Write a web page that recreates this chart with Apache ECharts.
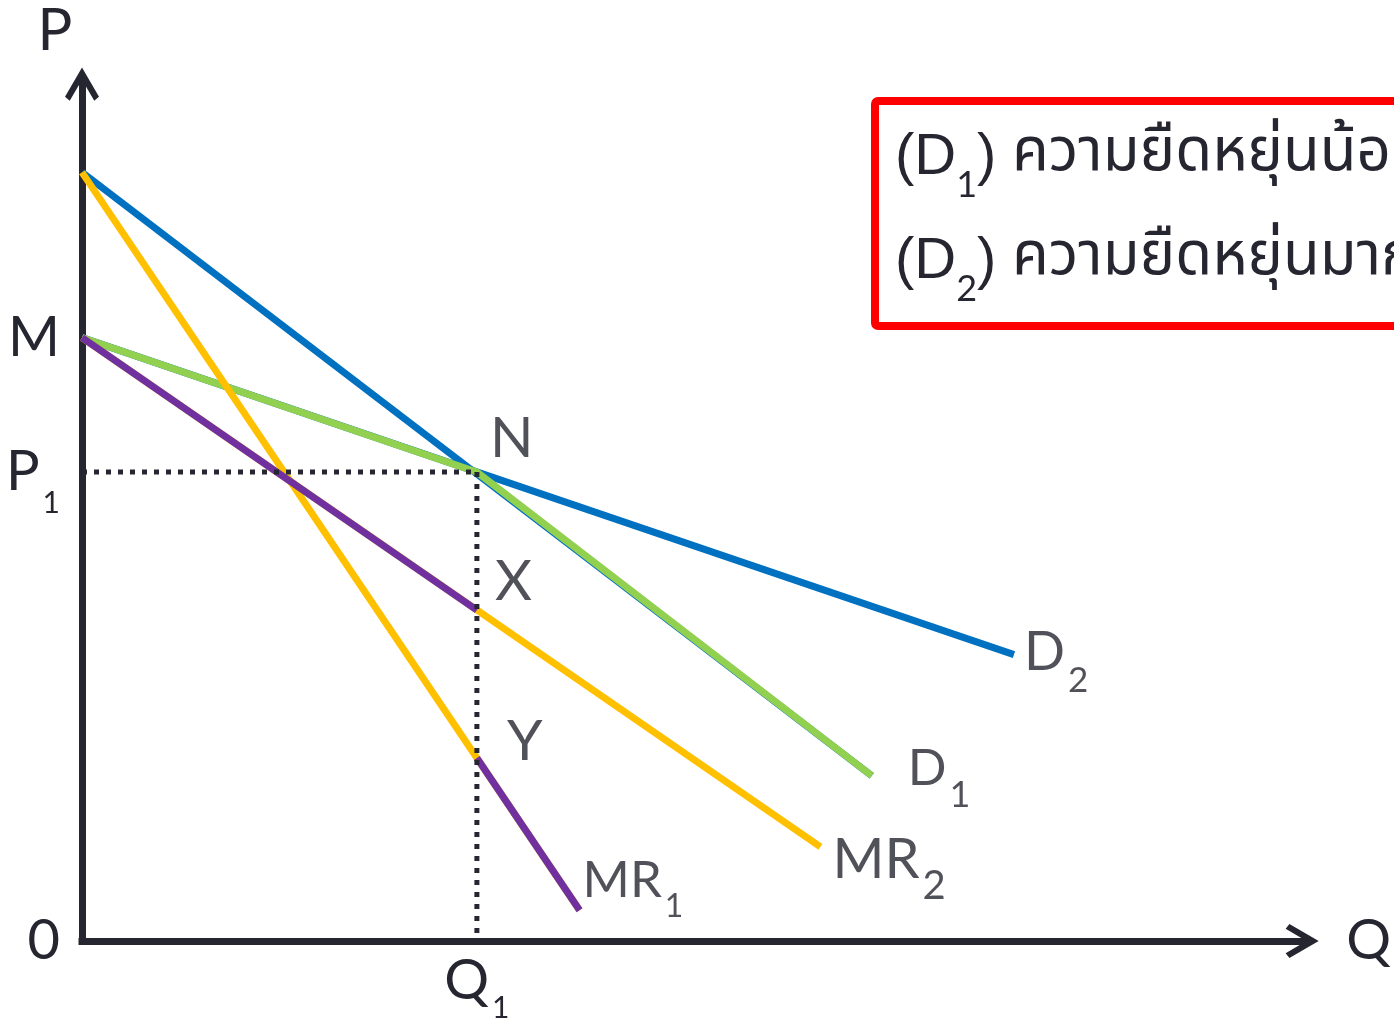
<!DOCTYPE html>
<html>
<head>
<meta charset="utf-8">
<script src="https://cdn.jsdelivr.net/npm/echarts@6/dist/echarts.min.js"></script>
<style>
  html, body { margin: 0; padding: 0; background: #ffffff; }
  #chart { width: 1394px; height: 1023px; }
</style>
</head>
<body>
<div id="chart"></div>
<script>
// Reference levels of the kinked-demand diagram (Q on x, P on y)
const q1 = 10;            // output Q1 at the kink
const p1 = 12.2;          // price P1 at the kink N
const priceM = 15.7;      // point M: intercept of D2 and MR2
const mrAtQ1 = [8.61, 4.76]; // X on MR2 and Y on MR1, both at Q1

// Straight curves as [Q, P] end points
const demand1 = [[0, 20], [20, 4.3]];      // D1, less elastic
const demand2 = [[0, 15.7], [23.6, 7.45]]; // D2, more elastic
const marginal1 = [[0, 20], [12.6, 0.8]];  // MR1
const marginal2 = [[0, 15.7], [18.7, 2.45]]; // MR2

// Axis tick labels
const yTickValues = [0, p1, priceM];
const yTickText = [['0', ''], ['P', '1'], ['M', '']];
const xTickValues = [q1];
const xTickText = [['Q', '1']];

// Legend box lines: [letter, subscript, description]
const legendLines = [
  ['D', '1', 'ความยืดหยุ่นน้อย'],
  ['D', '2', 'ความยืดหยุ่นมาก']
];

const ink = '#262631';
const blue = '#0070C0';
const green = '#92D050';
const yellow = '#FFC000';
const purple = '#7030A0';
const latin = 'Lato';

// open chevron used as axis arrow head (points up in symbol space)
const chevron = 'path://M18,0 L36,31 L31,35 L18,13 L5,35 L0,31 Z';

function sub(mainSize, subSize, drop) {
  return {
    m: { fontFamily: latin, fontSize: mainSize, lineHeight: mainSize, color: ink },
    s: { fontFamily: latin, fontSize: subSize, lineHeight: 20, color: ink, padding: [drop, 0, 0, 3] }
  };
}
function richText(main, s) {
  return s ? '{m|' + main + '}{s|' + s + '}' : '{m|' + main + '}';
}

function lineSeries(name, data, color, z, dashed) {
  return {
    type: 'line', name: name, data: data, symbol: 'none', z: z, silent: true,
    animation: false,
    lineStyle: dashed
      ? { color: ink, width: 5, type: [5, 7] }
      : { color: color, width: 7 }
  };
}

// Point labels: [text, subscript, point, offset, main size, sub size, drop]
const pointLabels = [
  ['N', '', [q1, p1], [13, -33], 57, 30, 54],
  ['X', '', [q1, mrAtQ1[0]], [18, -28], 57, 30, 54],
  ['Y', '', [q1, mrAtQ1[1]], [30, -16], 57, 30, 54],
  ['D', '2', demand2[1], [10, -2], 54, 35, 56],
  ['D', '1', demand1[1], [36, -7], 51, 36, 54],
  ['MR', '2', marginal2[1], [12, 13], 56, 40, 52],
  ['MR', '1', marginal1[1], [3, -30], 51, 32, 52]
];

const kinkedDemand = [demand2[0], [q1, p1], demand1[1]];
const mrUpper = [marginal2[0], [q1, mrAtQ1[0]]];
const mrLower = [[q1, mrAtQ1[1]], marginal1[1]];

const chart = echarts.init(document.getElementById('chart'), null, { renderer: 'canvas' });

const axisLineStyle = { color: ink, width: 7, cap: 'square' };

const option = {
  backgroundColor: '#ffffff',
  animation: false,
  grid: { left: 82, right: 84.4, top: 80.1, bottom: 80.5, containLabel: false },
  xAxis: {
    type: 'value', min: 0, max: 31,
    axisLine: { show: true, onZero: false, symbol: ['none', chevron], symbolSize: [34, 35], symbolOffset: [0, -4], lineStyle: axisLineStyle },
    axisTick: { show: false },
    splitLine: { show: false },
    axisLabel: {
      customValues: xTickValues,
      margin: 12,
      formatter: function (v) {
        const i = xTickValues.findIndex(t => Math.abs(t - v) < 1e-6);
        return i < 0 ? '' : richText(xTickText[i][0], xTickText[i][1]);
      },
      rich: sub(56, 30, 54)
    },
    name: 'Q', nameLocation: 'end', nameGap: 40,
    nameTextStyle: { fontFamily: latin, fontSize: 56, color: ink }
  },
  yAxis: {
    type: 'value', min: 0, max: 22.4,
    axisLine: { show: true, onZero: false, symbol: ['none', chevron], symbolSize: [34, 35], symbolOffset: [0, -4], lineStyle: axisLineStyle },
    axisTick: { show: false },
    splitLine: { show: false },
    axisLabel: {
      customValues: yTickValues,
      margin: 22,
      formatter: function (v) {
        const i = yTickValues.findIndex(t => Math.abs(t - v) < 1e-6);
        return i < 0 ? '' : richText(yTickText[i][0], yTickText[i][1]);
      },
      rich: sub(56, 30, 62)
    },
    name: 'P', nameLocation: 'end', nameGap: 20,
    nameTextStyle: { fontFamily: latin, fontSize: 58, color: ink, align: 'center', padding: [0, 54, 0, 0] }
  },
  series: [
    lineSeries('D1', demand1, blue, 2),
    lineSeries('D2', demand2, blue, 2),
    lineSeries('kinked demand', kinkedDemand, green, 3),
    lineSeries('MR1', marginal1, yellow, 4),
    lineSeries('MR2', marginal2, yellow, 4),
    lineSeries('MR upper', mrUpper, purple, 5),
    lineSeries('MR lower', mrLower, purple, 5),
    lineSeries('P1 guide', [[0, p1], [q1, p1]], ink, 6, true),
    lineSeries('Q1 guide', [[q1, p1], [q1, 0]], ink, 6, true),
    {
      type: 'scatter', name: 'labels', symbolSize: 0, z: 10, silent: true, animation: false,
      data: pointLabels.map(function (p) {
        return {
          value: p[2],
          label: {
            show: true, position: 'right', distance: 0,
            offset: p[3], align: 'left', verticalAlign: 'middle',
            formatter: richText(p[0], p[1]),
            rich: sub(p[4], p[5], p[6])
          }
        };
      })
    }
  ],
  graphic: [
    {
      type: 'group', z: 100,
      children: [
        { type: 'rect', shape: { x: 875, y: 101, width: 620, height: 225, r: 3 },
          style: { fill: '#ffffff', stroke: '#FF0000', lineWidth: 8 } }
      ].concat(legendLines.map(function (l, i) {
        return {
          type: 'text', x: 895, y: 158 + i * 104,
          style: {
            text: '{p|(' + l[0] + '}{s|' + l[1] + '}{p|)}{t| ' + l[2] + '}',
            verticalAlign: 'middle',
            rich: {
              p: { fontFamily: 'Liberation Sans Narrow, Liberation Sans, sans-serif', fontSize: 58, lineHeight: 62, fill: ink },
              s: { fontFamily: latin, fontSize: 36, lineHeight: 20, fill: ink, padding: [54, 0, 0, 0] },
              t: { fontFamily: 'Noto Sans Thai, Noto Sans, sans-serif', fontSize: 60, lineHeight: 62, fill: ink }
            }
          }
        };
      }))
    }
  ]
};

chart.setOption(option);
</script>
</body>
</html>
